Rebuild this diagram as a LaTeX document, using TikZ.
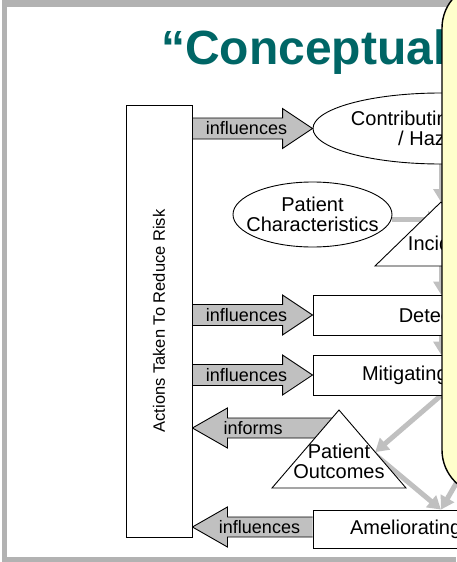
\documentclass[tikz,border=0pt]{standalone}
\usepackage{fontspec}
\setmainfont{Liberation Sans}
\usetikzlibrary{shapes.geometric,arrows.meta,calc}
\definecolor{framegray}{RGB}{178,178,178}
\definecolor{flowgray}{RGB}{192,192,192}
\definecolor{titleteal}{RGB}{0,102,102}
\definecolor{noteyellow}{RGB}{255,255,204}
\pgfdeclarelayer{backdrop}
\pgfdeclarelayer{links}
\pgfdeclarelayer{cover}
\pgfsetlayers{backdrop,links,main,cover}

% wide arrow pointing right: tail point, tip point, label shift, label name, label text
\newcommand\pushright[5]{%
  \draw[blockarrow] ($(#1)+(0,-10.5)$) -- ($(#2)+(-30,-10.5)$) -- ($(#2)+(-30,-20)$)
    -- (#2) -- ($(#2)+(-30,20)$) -- ($(#2)+(-30,10.5)$) -- ($(#1)+(0,10.5)$);
  \node[lbl, xshift=#3] (#4) at ($(#1)!0.5!(#2)$) {#5};}
% wide arrow pointing left: tail point (right end), tip point, label shift, label name, label text
\newcommand\pushleft[5]{%
  \draw[blockarrow] ($(#1)+(0,-10)$) -- ($(#2)+(35,-10)$) -- ($(#2)+(35,-20)$)
    -- (#2) -- ($(#2)+(35,20)$) -- ($(#2)+(35,10)$) -- ($(#1)+(0,10)$);
  \node[lbl, xshift=#3] (#4) at ($(#1)!0.5!(#2)$) {#5};}

\begin{document}
\begin{tikzpicture}[x=1pt,y=-1pt,
  box/.style={draw, line width=0.9pt, fill=white, inner sep=0pt},
  txt/.style={font=\fontsize{20}{20}\selectfont, align=center, inner sep=0pt},
  lbl/.style={font=\fontsize{18}{18}\selectfont, inner sep=0pt},
  flow/.style={draw=flowgray, line width=5pt, -{Triangle[length=13pt,width=15pt]}},
  blockarrow/.style={draw, line width=0.9pt, fill=flowgray, line join=miter}]
\useasboundingbox (0,0) rectangle (456,562);

% slide frame
\begin{pgfonlayer}{backdrop}
  \fill[framegray] (0,0) rectangle (456,562);
  \fill[white] (0,0) rectangle (1.5,562);
  \fill[white] (7,7) rectangle (456,557);
\end{pgfonlayer}

% heading
\node[anchor=base west, inner sep=0pt, text=titleteal,
      font=\fontsize{48}{48}\selectfont\bfseries] (title) at (161,64) {“Conceptual};

% left column
\node[box, minimum width=66pt, minimum height=432pt] (actions) at (159,321) {};
\node[font=\fontsize{16.5}{16.5}\selectfont, rotate=90, inner sep=0pt] (actionsText)
  at (actions.center) {Actions Taken To Reduce Risk};

% main chain
\node[box, ellipse, minimum width=256pt, minimum height=71pt] (contrib) at (441,128.5) {};
\node[txt] (contribText) at (contrib.center) {Contributing Factors\\/ Hazards};

\node[box, ellipse, minimum width=159pt, minimum height=65pt] (pchar) at (312.5,214.5) {};
\node[txt] (pcharText) at (pchar.center) {Patient\\Characteristics};

\coordinate (incL) at (375,266);
\coordinate (incTop) at (441,202);
\coordinate (incR) at (507,266);
\draw[line width=0.9pt, fill=white] (incL) -- (incTop) -- (incR) -- cycle;
\node[txt] (incident) at (443,243) {Incident};

\node[box, txt, minimum width=256pt, minimum height=40pt] (detect) at (441,315) {Detection};
\node[box, txt, minimum width=256pt, minimum height=40pt] (mitig) at (441,375) {Mitigating Factors};

\coordinate (outL) at (272,488);
\coordinate (outTop) at (339,410);
\coordinate (outR) at (406,488);
\draw[line width=0.9pt, fill=white] (outL) -- (outTop) -- (outR) -- cycle;
\node[txt] (outcomes) at (339,461) {Patient\\Outcomes};
\coordinate (outHit) at ($(outTop)!0.54!(outR)$);
\coordinate (outMid) at (366,447);

\node[box, minimum width=256pt, minimum height=38pt] (amel) at (441,529) {};
\node[txt] (amelText) at ([xshift=-7pt]amel.center) {Ameliorating Steps};

% grey flow connectors and wide arrows, beneath the shapes
\begin{pgfonlayer}{links}
  \draw[flow] (contrib.south) -- (incTop);
  \draw[flow] ([yshift=-4.5pt]pchar.east) -- ([yshift=-4.5pt]pchar.east -| incTop);
  \draw[flow] (incL -| incTop) -- (detect.north);
  \draw[flow] (detect.south) -- (mitig.north);
  \draw[flow] (mitig.south) -- (outHit);
  \draw[flow] (outMid) -- (amel.north);
  \draw[flow] ([xshift=66pt]mitig.south) -- (amel.north);

  \coordinate (a1) at (actions.east |- contrib.west);
  \coordinate (a2) at (actions.east |- detect.west);
  \coordinate (a3) at (actions.east |- mitig.west);
  \coordinate (outIn) at (345,428);
  \coordinate (a4) at (actions.east |- outIn);
  \coordinate (amelIn) at ([yshift=2pt]amel.west);
  \coordinate (a5) at (actions.east |- amelIn);
  \pushright{a1}{contrib.west}{-6pt}{lab1}{influences}
  \pushright{a2}{detect.west}{-6pt}{lab2}{influences}
  \pushright{a3}{mitig.west}{-6pt}{lab3}{influences}
  \pushleft{outIn}{a4}{-15.5pt}{lab4}{informs}
  \pushleft{amelIn}{a5}{7pt}{lab5}{influences}
\end{pgfonlayer}

% yellow note lying over the right side
\begin{pgfonlayer}{cover}
  \node[draw, line width=1.4pt, fill=noteyellow, rounded corners=45pt,
        minimum width=88pt, minimum height=512pt, inner sep=0pt] (note) at (486,239) {};
\end{pgfonlayer}
\end{tikzpicture}
\end{document}
